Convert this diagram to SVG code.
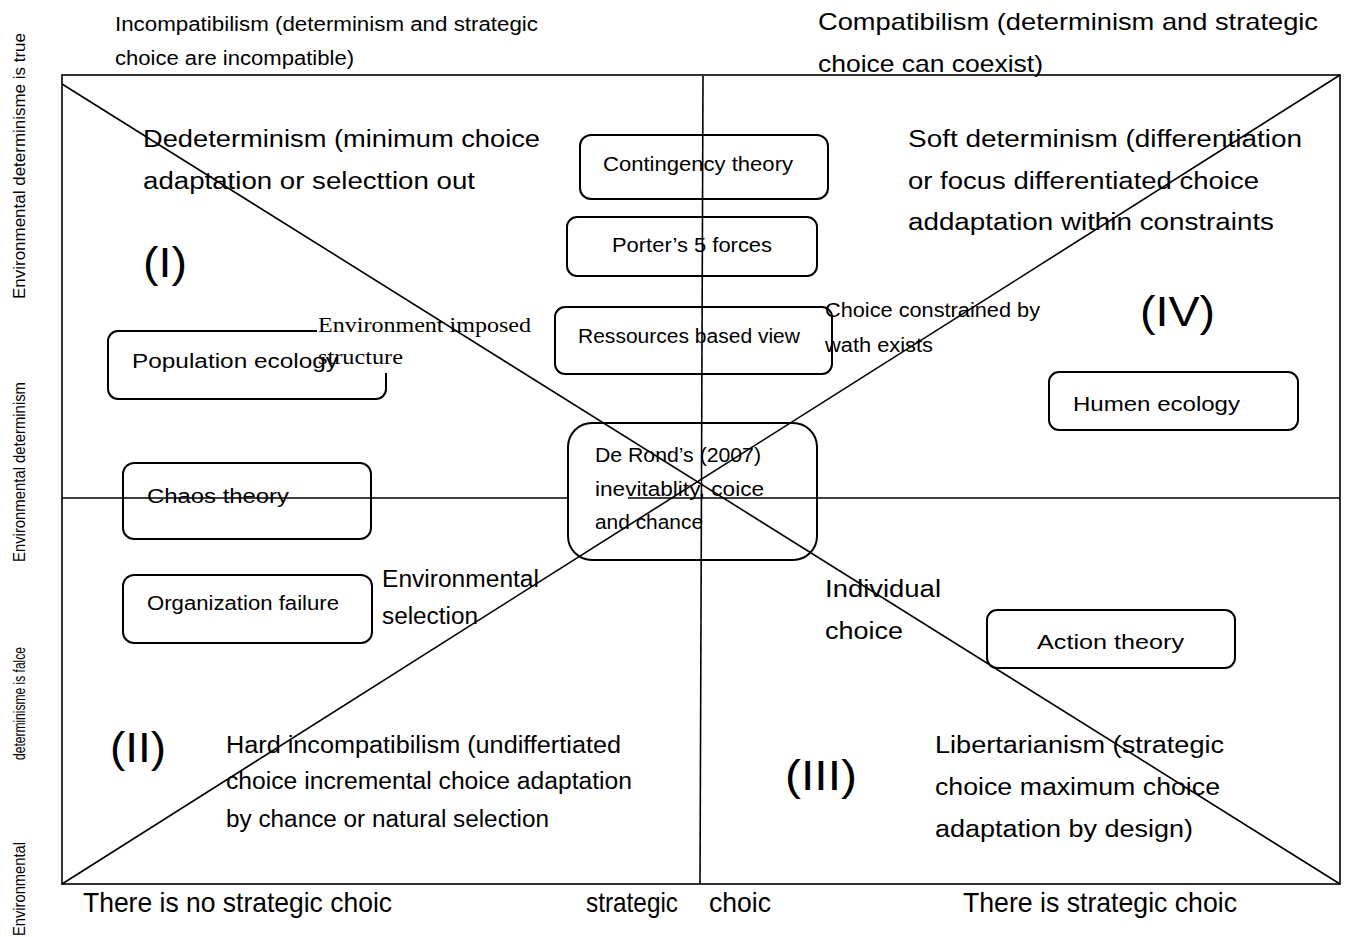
<svg xmlns="http://www.w3.org/2000/svg" width="1346" height="937" viewBox="0 0 1346 937">
  <style>
    text { font-family: "Liberation Sans", Arial, sans-serif; fill: #000; }
    .box { fill: none; stroke: #000; stroke-width: 2; }
    .ln { stroke: #000; stroke-width: 1.6; fill: none; }
    .side { font-size: 16.5px; }
    .hd { font-size: 20px; }
    .hd2 { font-size: 24px; }
    .q { font-size: 23px; }
    .lbl { font-size: 20px; }
    .num { font-size: 42px; }
    .serif { font-family: "Liberation Serif", "Times New Roman", serif; font-size: 21px; }
    .axis { font-size: 28px; }
  </style>

  <!-- vertical axis captions -->
  <g id="side-labels" class="side">
    <text transform="translate(25,299) rotate(-90)" textLength="266" lengthAdjust="spacingAndGlyphs">Environmental determinisme is true</text>
    <text transform="translate(25,562) rotate(-90)" textLength="180" lengthAdjust="spacingAndGlyphs">Environmental determinism</text>
    <text transform="translate(25,936) rotate(-90)" textLength="94" lengthAdjust="spacingAndGlyphs">Environmental</text>
    <text transform="translate(25,760) rotate(-90)" textLength="113" lengthAdjust="spacingAndGlyphs">determinisme is falce</text>
  </g>

  <!-- headings above the frame -->
  <g id="heading-left" class="hd">
    <text x="115" y="31" textLength="423" lengthAdjust="spacingAndGlyphs">Incompatibilism (determinism and strategic</text>
    <text x="115" y="65" textLength="239" lengthAdjust="spacingAndGlyphs">choice are incompatible)</text>
  </g>
  <g id="heading-right" class="hd2">
    <text x="818" y="30" textLength="500" lengthAdjust="spacingAndGlyphs">Compatibilism (determinism and strategic</text>
    <text x="818" y="72" textLength="225" lengthAdjust="spacingAndGlyphs">choice can coexist)</text>
  </g>

  <!-- quadrant descriptions -->
  <g id="quadrant-1" class="q">
    <text x="143" y="147" textLength="397" lengthAdjust="spacingAndGlyphs">Dedeterminism (minimum choice</text>
    <text x="143" y="189" textLength="332" lengthAdjust="spacingAndGlyphs">adaptation or selecttion out</text>
    <text class="num" x="143" y="277" textLength="44" lengthAdjust="spacingAndGlyphs">(I)</text>
  </g>
  <g id="quadrant-4" class="q">
    <text x="908" y="147" textLength="394" lengthAdjust="spacingAndGlyphs">Soft determinism (differentiation</text>
    <text x="908" y="189" textLength="351" lengthAdjust="spacingAndGlyphs">or focus differentiated choice</text>
    <text x="908" y="230" textLength="366" lengthAdjust="spacingAndGlyphs">addaptation within constraints</text>
    <text class="num" x="1140" y="326" textLength="75" lengthAdjust="spacingAndGlyphs">(IV)</text>
  </g>
  <g id="quadrant-2" class="q">
    <text class="num" x="110" y="762" textLength="56" lengthAdjust="spacingAndGlyphs">(II)</text>
    <text x="226" y="753" textLength="395" lengthAdjust="spacingAndGlyphs">Hard incompatibilism (undiffertiated</text>
    <text x="226" y="789" textLength="406" lengthAdjust="spacingAndGlyphs">choice incremental choice adaptation</text>
    <text x="226" y="827" textLength="323" lengthAdjust="spacingAndGlyphs">by chance or natural selection</text>
  </g>
  <g id="quadrant-3" class="q">
    <text class="num" x="785" y="790" textLength="72" lengthAdjust="spacingAndGlyphs">(III)</text>
    <text x="935" y="753" textLength="289" lengthAdjust="spacingAndGlyphs">Libertarianism (strategic</text>
    <text x="935" y="795" textLength="285" lengthAdjust="spacingAndGlyphs">choice maximum choice</text>
    <text x="935" y="837" textLength="258" lengthAdjust="spacingAndGlyphs">adaptation by design)</text>
  </g>

  <!-- theory boxes -->
  <g id="node-contingency">
    <rect class="box" x="580" y="135" width="248" height="64" rx="11"/>
    <text class="lbl" x="603" y="171" textLength="190" lengthAdjust="spacingAndGlyphs">Contingency theory</text>
  </g>
  <g id="node-porter">
    <rect class="box" x="567" y="217" width="250" height="59" rx="10"/>
    <text class="lbl" x="612" y="252" textLength="160" lengthAdjust="spacingAndGlyphs">Porter’s 5 forces</text>
  </g>
  <g id="node-rbv">
    <rect class="box" x="555" y="307" width="277" height="67" rx="10"/>
    <text class="lbl" x="578" y="343" textLength="222" lengthAdjust="spacingAndGlyphs">Ressources based view</text>
  </g>
  <g id="node-population-ecology">
    <rect class="box" x="108" y="331" width="278" height="68" rx="10"/>
    <text class="lbl" x="132" y="368" textLength="206" lengthAdjust="spacingAndGlyphs">Population ecology</text>
  </g>
  <g id="node-human-ecology">
    <rect class="box" x="1049" y="372" width="249" height="58" rx="10"/>
    <text class="lbl" x="1073" y="411" textLength="167" lengthAdjust="spacingAndGlyphs">Humen ecology</text>
  </g>
  <g id="node-chaos">
    <rect class="box" x="123" y="463" width="248" height="76" rx="11"/>
    <text class="lbl" x="147" y="503" textLength="142" lengthAdjust="spacingAndGlyphs">Chaos theory</text>
  </g>
  <g id="node-org-failure">
    <rect class="box" x="123" y="575" width="249" height="68" rx="11"/>
    <text class="lbl" x="147" y="610" textLength="192" lengthAdjust="spacingAndGlyphs">Organization failure</text>
  </g>
  <g id="node-action">
    <rect class="box" x="987" y="610" width="248" height="58" rx="10"/>
    <text class="lbl" x="1037" y="649" textLength="147" lengthAdjust="spacingAndGlyphs">Action theory</text>
  </g>
  <g id="node-de-rond">
    <rect class="box" x="568" y="423" width="249" height="137" rx="24"/>
    <text class="lbl" x="595" y="462" textLength="166" lengthAdjust="spacingAndGlyphs">De Rond’s (2007)</text>
    <text class="lbl" x="595" y="496" textLength="169" lengthAdjust="spacingAndGlyphs">inevitablity, coice</text>
    <text class="lbl" x="595" y="529" textLength="108" lengthAdjust="spacingAndGlyphs">and chance</text>
  </g>

  <!-- diagonal annotations -->
  <g id="note-imposed">
    <!-- white backing of the caption hides the corner of the box beneath -->
    <rect x="317" y="326" width="74" height="10" fill="#fff"/>
    <rect x="380" y="326" width="11" height="47" fill="#fff"/>
    <text class="serif" x="318" y="332" textLength="213" lengthAdjust="spacingAndGlyphs">Environment imposed</text>
    <text class="serif" x="318" y="364" textLength="85" lengthAdjust="spacingAndGlyphs">structure</text>
  </g>
  <g id="note-constrained" class="lbl">
    <text x="825" y="317" textLength="215" lengthAdjust="spacingAndGlyphs">Choice constrained by</text>
    <text x="825" y="352" textLength="108" lengthAdjust="spacingAndGlyphs">wath exists</text>
  </g>
  <g id="note-selection" class="q">
    <text x="382" y="587" textLength="157" lengthAdjust="spacingAndGlyphs">Environmental</text>
    <text x="382" y="624" textLength="96" lengthAdjust="spacingAndGlyphs">selection</text>
  </g>
  <g id="note-individual" class="q">
    <text x="825" y="597" textLength="116" lengthAdjust="spacingAndGlyphs">Individual</text>
    <text x="825" y="639" textLength="78" lengthAdjust="spacingAndGlyphs">choice</text>
  </g>

  <!-- frame, axes and diagonals -->
  <g id="connectors">
    <rect class="ln" x="62" y="75" width="1278" height="809"/>
    <line class="ln" x1="703" y1="76" x2="700" y2="884"/>
    <line class="ln" x1="62" y1="498" x2="568" y2="498"/>
    <line class="ln" x1="628" y1="498" x2="1340" y2="498"/>
    <line class="ln" x1="62" y1="84" x2="1340" y2="884"/>
    <line class="ln" x1="62" y1="884" x2="1340" y2="75"/>
  </g>

  <!-- horizontal axis captions -->
  <g id="bottom-labels" class="axis">
    <text x="83" y="912" textLength="309" lengthAdjust="spacingAndGlyphs">There is no strategic choic</text>
    <text x="586" y="912" textLength="92" lengthAdjust="spacingAndGlyphs">strategic</text>
    <text x="709" y="912" textLength="62" lengthAdjust="spacingAndGlyphs">choic</text>
    <text x="963" y="912" textLength="274" lengthAdjust="spacingAndGlyphs">There is strategic choic</text>
  </g>
</svg>
